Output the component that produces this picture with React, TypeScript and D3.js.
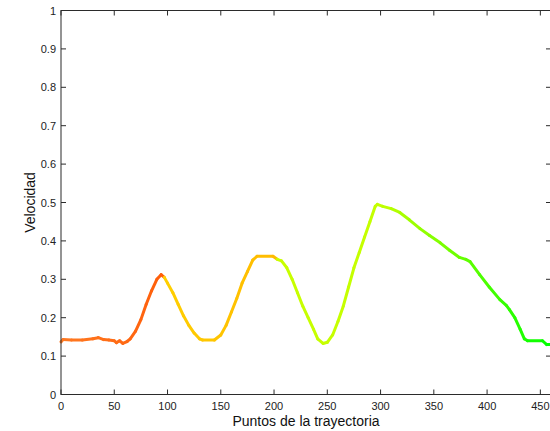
import React from 'react'
import * as d3 from 'd3'

// trajectory samples
const puntos = [0, 2, 10, 20, 30, 35, 40, 45, 50, 52, 55, 58, 62, 65, 70, 75, 80, 85, 90, 94, 97, 100, 105, 110, 115, 120, 125, 130, 133, 144, 150, 155, 160, 165, 170, 175, 180, 184, 199, 203, 207, 212, 217, 222, 227, 232, 237, 241, 246, 250, 255, 260, 265, 270, 275, 280, 285, 290, 295, 297, 302, 310, 318, 327, 337, 346, 356, 365, 374, 380, 384, 393, 402, 412, 418, 421, 426, 431, 435, 438, 452, 456, 460]
const velocidad = [0.137, 0.143, 0.142, 0.142, 0.145, 0.148, 0.143, 0.142, 0.14, 0.135, 0.14, 0.133, 0.138, 0.145, 0.165, 0.195, 0.235, 0.27, 0.3, 0.312, 0.305, 0.29, 0.265, 0.235, 0.205, 0.18, 0.16, 0.145, 0.142, 0.142, 0.155, 0.18, 0.215, 0.25, 0.29, 0.32, 0.35, 0.36, 0.36, 0.352, 0.348, 0.33, 0.3, 0.265, 0.23, 0.2, 0.17, 0.145, 0.133, 0.136, 0.155, 0.19, 0.23, 0.28, 0.33, 0.37, 0.41, 0.45, 0.49, 0.495, 0.49, 0.484, 0.474, 0.455, 0.432, 0.414, 0.395, 0.375, 0.357, 0.352, 0.346, 0.312, 0.28, 0.247, 0.232, 0.221, 0.2, 0.17, 0.145, 0.14, 0.14, 0.13, 0.13]

const colorStops = [0, 60, 95.9, 96, 150, 203.9, 204, 300, 460]
const colorValues = ['#ff7a22', '#ff6a14', '#ff5e0a', '#ffd000', '#ffc400', '#ffbb00', '#c8ff00', '#c4ff00', '#00ff00']

const xTicks = [0, 50, 100, 150, 200, 250, 300, 350, 400, 450]
const yTicks = [0, 0.1, 0.2, 0.3, 0.4, 0.5, 0.6, 0.7, 0.8, 0.9, 1]

const W = 550
const H = 431
const FONT = '"Liberation Sans", Arial, Helvetica, sans-serif'
const AXIS = '#2b2b2b'

export default function App() {
  const x = d3.scaleLinear().domain([0, 460]).range([61, 551])
  const y = d3.scaleLinear().domain([0, 1]).range([394.5, 10.5])
  const color = d3.scaleLinear<string>().domain(colorStops).range(colorValues)
  const line = d3.line<[number, number]>().x(d => x(d[0])).y(d => y(d[1]))

  const segs = puntos.slice(1).map((p, i) => {
    const a: [number, number] = [puntos[i], velocidad[i]]
    const b: [number, number] = [p, velocidad[i + 1]]
    return { d: line([a, b]), c: color((a[0] + b[0]) / 2) }
  })

  const [x0, x1] = x.range()
  const [y0, y1] = y.range()
  const tick = 5

  return <svg width={W} height={H} style={{ position: 'absolute', left: 0, top: 0, background: 'white' }}
              fontFamily={FONT}>
    <g strokeLinecap="round" strokeLinejoin="round" fill="none" strokeWidth={3}>
      {segs.map((s, i) => <path key={i} d={s.d || ''} stroke={s.c} />)}
    </g>
    <g stroke={AXIS} strokeWidth={1}>
      <rect x={x0} y={y1} width={x1 - x0} height={y0 - y1} fill="none" />
      {xTicks.map(t => <g key={t}>
        <line x1={x(t)} x2={x(t)} y1={y0} y2={y0 - tick} />
        <line x1={x(t)} x2={x(t)} y1={y1} y2={y1 + tick} />
      </g>)}
      {yTicks.map(t => <g key={t}>
        <line x1={x0} x2={x0 + tick} y1={y(t)} y2={y(t)} />
        <line x1={x1} x2={x1 - tick} y1={y(t)} y2={y(t)} />
      </g>)}
    </g>
    <g fontSize={11} fill="#222">
      {xTicks.map(t => <text key={t} x={x(t)} y={y0 + 15} textAnchor="middle">{t}</text>)}
      {yTicks.map(t => <text key={t} x={x0 - 5} y={y(t) + 4} textAnchor="end">{t}</text>)}
    </g>
    <text x={(x0 + x1) / 2} y={426} textAnchor="middle" fontSize={14} fill="#111">Puntos de la trayectoria</text>
    <text transform={`translate(35,${(y0 + y1) / 2}) rotate(-90)`} textAnchor="middle" fontSize={14} fill="#111">Velocidad</text>
  </svg>
}
